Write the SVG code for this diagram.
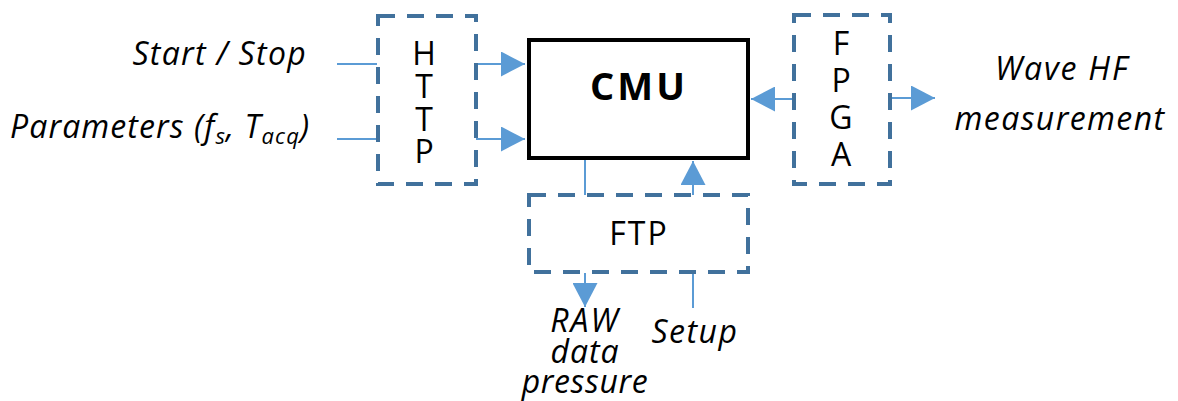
<svg xmlns="http://www.w3.org/2000/svg" width="1178" height="401" viewBox="0 0 1178 401">
<style>
.dash{fill:none;stroke:#41719C;stroke-width:4;stroke-dasharray:17 12}
.conn{fill:none;stroke:#5B9BD5;stroke-width:2}
.lbl{font-family:"Open Sans","DejaVu Sans",sans-serif;font-style:italic;font-size:32px;fill:#000}
.box{font-family:"Open Sans","DejaVu Sans",sans-serif;font-size:32px;fill:#000;text-anchor:middle}
</style>
<defs>
<marker id="ah" markerUnits="userSpaceOnUse" markerWidth="24" markerHeight="25" refX="24" refY="12.5" orient="auto" viewBox="0 0 24 25">
<path d="M0,0 L24,12.5 L0,25 z" fill="#5B9BD5"/>
</marker>
</defs>
<rect width="1178" height="401" fill="#fff"/>
<g id="connectors">
<path class="conn" d="M337,64 H377"/>
<path class="conn" d="M337,139 H377"/>
<path class="conn" d="M476,64 H525" marker-end="url(#ah)"/>
<path class="conn" d="M476,139 H525" marker-end="url(#ah)"/>
<path class="conn" d="M793,99 H751" marker-end="url(#ah)"/>
<path class="conn" d="M891,98 H935" marker-end="url(#ah)"/>
<path class="conn" d="M585,160 V195"/>
<path class="conn" d="M693,195 V161" marker-end="url(#ah)"/>
<path class="conn" d="M585,273 V307" marker-end="url(#ah)"/>
<path class="conn" d="M693,308 V273"/>
</g>
<g id="http">
<rect class="dash" x="378" y="16" width="98" height="168"/>
<text class="box" x="424" y="65">H</text>
<text class="box" x="424" y="98">T</text>
<text class="box" x="424" y="131">T</text>
<text class="box" x="424" y="163">P</text>
</g>
<g id="cmu">
<rect x="529" y="40" width="219" height="118" fill="#fff" stroke="#000" stroke-width="4"/>
<text x="639" y="100" text-anchor="middle" font-family="'Open Sans','DejaVu Sans',sans-serif" font-weight="bold" font-size="38" letter-spacing="3">CMU</text>
</g>
<g id="fpga">
<rect class="dash" x="794" y="15" width="96" height="169"/>
<text class="box" x="841" y="55">F</text>
<text class="box" x="841" y="92">P</text>
<text class="box" x="841" y="129">G</text>
<text class="box" x="841" y="166">A</text>
</g>
<g id="ftp">
<rect class="dash" x="529" y="195" width="219" height="77"/>
<text class="box" x="639" y="245" font-size="34" letter-spacing="2">FTP</text>
</g>
<g id="start-stop">
<text class="lbl" x="307" y="65" text-anchor="end" font-size="33" letter-spacing="1.3">Start / Stop</text>
</g>
<g id="parameters">
<text class="lbl" x="10" y="138" font-size="33" letter-spacing="1.1">Parameters (f<tspan font-size="22" dy="6">s</tspan><tspan dy="-6">, T</tspan><tspan font-size="22" dy="6">acq</tspan><tspan dy="-6">)</tspan></text>
</g>
<g id="wave-hf">
<text class="lbl" x="1062" y="80" text-anchor="middle" font-size="33" letter-spacing="1.8">Wave HF</text>
<text class="lbl" x="1060" y="130" text-anchor="middle" font-size="33" letter-spacing="1.4">measurement</text>
</g>
<g id="raw">
<text class="lbl" x="585" y="332" text-anchor="middle" font-size="30" letter-spacing="2">RAW</text>
<text class="lbl" x="585" y="363" text-anchor="middle" font-size="30" letter-spacing="1">data</text>
<text class="lbl" x="585" y="393" text-anchor="middle" font-size="30" letter-spacing="0.6">pressure</text>
</g>
<g id="setup">
<text class="lbl" x="695" y="343" text-anchor="middle" font-size="30" letter-spacing="1.5">Setup</text>
</g>
</svg>
